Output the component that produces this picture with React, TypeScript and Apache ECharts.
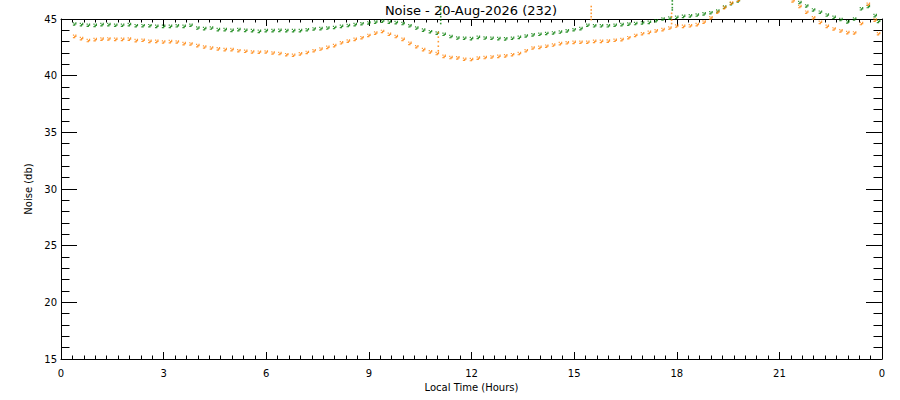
import React, { useEffect, useRef } from "react";
import * as echarts from "echarts";

const hours = [
  0.4, 0.6, 0.8, 1.0, 1.2, 1.4, 1.6, 1.8, 2.0, 2.2, 2.4, 2.6, 2.8, 3.0, 3.2, 3.4, 3.6, 3.8,
  4.0, 4.2, 4.4, 4.6, 4.8, 5.0, 5.2, 5.4, 5.6, 5.8, 6.0, 6.2, 6.4, 6.6, 6.8, 7.0, 7.2, 7.4,
  7.6, 7.8, 8.0, 8.2, 8.4, 8.6, 8.8, 9.0, 9.2, 9.4, 9.6, 9.8, 10.0, 10.2, 10.4, 10.6, 10.8,
  11.0, 11.2, 11.4, 11.6, 11.8, 12.0, 12.2, 12.4, 12.6, 12.8, 13.0, 13.2, 13.4, 13.6, 13.8,
  14.0, 14.2, 14.4, 14.6, 14.8, 15.0, 15.2, 15.4, 15.6, 15.8, 16.0, 16.2, 16.4, 16.6, 16.8,
  17.0, 17.2, 17.4, 17.6, 17.8, 18.0, 18.2, 18.4, 18.6, 18.8, 19.0, 19.2, 19.4, 19.6, 19.8,
  20.0, 20.2, 20.4, 20.6, 20.8, 21.0, 21.2, 21.4, 21.6, 21.8, 22.0, 22.2, 22.4, 22.6, 22.8,
  23.0, 23.2, 23.4, 23.6, 23.8, 23.9,
];

const greenNoise = [
  44.56, 44.5, 44.45, 44.44, 44.5, 44.5, 44.45, 44.45, 44.5, 44.41, 44.41, 44.41, 44.35, 44.35, 44.35, 44.4, 44.35, 44.45,
  44.2, 44.15, 44.2, 44.06, 44.06, 44.0, 44.06, 44.0, 43.97, 43.91, 43.97, 43.97, 44.0, 43.97, 43.97, 43.97, 44.05, 44.12,
  44.15, 44.2, 44.25, 44.35, 44.42, 44.5, 44.58, 44.65, 44.72, 44.8, 44.72, 44.68, 44.6, 44.4, 44.2, 44.02, 43.88,
  43.75, 43.65, 43.45, 43.32, 43.3, 43.27, 43.38, 43.32, 43.3, 43.27, 43.25, 43.3, 43.38, 43.5, 43.6,
  43.65, 43.72, 43.77, 43.85, 43.95, 44.05, 44.15, 44.45, 44.4, 44.4, 44.4, 44.45, 44.5, 44.55, 44.6,
  44.65, 44.7, 44.85, 45.0, 45.08, 45.15, 45.23, 45.28, 45.35, 45.45, 45.55, 45.7, 46.05, 46.35, 46.6,
  null, null, null, null, null, null, null, null, 46.45, 46.15, 45.8, 45.6, 45.35, 45.15, 44.95,
  44.75, 45.0, 45.9, 46.1, 45.3, 44.79,
];

const orangeNoise = [
  43.47, 43.27, 43.1, 43.18, 43.22, 43.24, 43.2, 43.2, 43.22, 43.09, 43.12, 43.03, 43.03, 42.97, 43.0, 42.97, 42.83, 42.8,
  42.65, 42.53, 42.44, 42.36, 42.3, 42.3, 42.2, 42.15, 42.09, 42.07, 42.09, 42.0, 41.95, 41.85, 41.8, 41.92, 42.05, 42.2,
  42.35, 42.5, 42.65, 42.9, 43.05, 43.2, 43.35, 43.55, 43.75, 43.9, 43.65, 43.45, 43.2, 42.85, 42.55, 42.3, 42.1,
  41.95, 41.7, 41.6, 41.57, 41.45, 41.42, 41.55, 41.6, 41.65, 41.7, 41.75, 41.85, 41.95, 42.2, 42.44,
  42.5, 42.6, 42.7, 42.83, 42.9, 42.94, 42.95, 42.95, 43.03, 43.03, 43.05, 43.12, 43.18, 43.35, 43.55,
  43.7, 43.82, 43.95, 44.06, 44.2, 44.38, 44.35, 44.4, 44.5, 44.72, 45.1, 45.6, 46.0, 46.4, 46.65,
  null, null, null, null, null, null, null, 46.6, 46.1, 45.6, 45.1, 44.7, 44.35, 44.12, 43.95,
  43.8, 43.77, 44.6, 46.3, 44.9, 43.7,
];

const greenBurst = [
  [11.1, 46.1], [11.1, 45.8], [11.1, 45.5], [11.1, 45.2], [11.1, 44.9], [11.1, 44.6],
  [17.87, 46.6], [17.87, 46.3], [17.87, 46.0], [17.87, 45.8],
];

const orangeBurst = [
  [11.03, 43.8], [11.03, 43.4], [11.03, 43.0], [11.03, 42.6], [11.03, 42.2],
  [15.5, 46.1], [15.5, 45.8], [15.5, 45.5], [15.5, 45.2], [15.5, 44.95],
  [17.85, 45.5], [17.85, 45.2], [17.85, 44.9], [17.85, 44.6],
];

const xTickLabels = ["0", "3", "6", "9", "12", "15", "18", "21", "0"];

const titleText = "Noise - 20-Aug-2026 (232)";
const xName = "Local Time (Hours)";
const yName = "Noise (db)";

const GREEN = "#007a00";
const ORANGE = "#ff8000";
const FONT = "DejaVu Sans";
// small pixel cluster glyph (3x3 cells, partly filled)
const CLUSTER =
  "path://M0,0h1v1h-1z M2,0h1v1h-1z M1,1h2v1h-2z M0,2h2v1h-2z";

function pairs(xs: number[], ys: (number | null)[]) {
  const out: number[][] = [];
  xs.forEach((x, i) => {
    const y = ys[i];
    if (y !== null && y !== undefined) out.push([x, y]);
  });
  return out;
}

export default function App() {
  const ref = useRef<HTMLDivElement>(null);
  useEffect(() => {
    const chart = echarts.init(ref.current!, null, { renderer: "svg" });
    const axisLine = { show: true, onZero: false, lineStyle: { color: "#000", width: 1 } };
    const xCommon = {
      type: "value",
      min: 0,
      max: 24,
      interval: 3,
      axisLine,
      axisTick: { show: true, inside: true, length: 7, lineStyle: { color: "#000" } },
      minorTick: { show: true, splitNumber: 9, length: 3.5, lineStyle: { color: "#000" } },
      splitLine: { show: false },
      minorSplitLine: { show: false },
    };
    const yCommon = {
      type: "value",
      min: 15,
      max: 45,
      interval: 5,
      axisLine,
      axisTick: { show: true, inside: true, length: 16, lineStyle: { color: "#000" } },
      minorTick: { show: true, splitNumber: 5, length: 8.5, lineStyle: { color: "#000" } },
      splitLine: { show: false },
      minorSplitLine: { show: false },
    };
    const option: any = {
      animation: false,
      backgroundColor: "#fff",
      grid: { left: 61, right: 18, top: 19, bottom: 41, containLabel: false },
      graphic: [
        {
          type: "text",
          x: 471,
          y: 10,
          style: {
            text: titleText,
            fontFamily: FONT,
            fontSize: 13,
            fill: "#000",
            align: "center",
            verticalAlign: "middle",
          },
        },
      ],
      xAxis: [
        {
          ...xCommon,
          position: "bottom",
          axisLabel: {
            show: true,
            color: "#000",
            fontFamily: FONT,
            fontSize: 10,
            margin: 9,
            formatter: (v: number) => xTickLabels[Math.round(v / 3)] ?? String(v),
          },
          name: xName,
          nameLocation: "middle",
          nameGap: 19,
          nameTextStyle: { color: "#000", fontFamily: FONT, fontSize: 10 },
        },
        { ...xCommon, position: "top", axisLabel: { show: false } },
      ],
      yAxis: [
        {
          ...yCommon,
          position: "left",
          axisLabel: { show: true, color: "#000", fontFamily: FONT, fontSize: 10, margin: 4 },
          name: yName,
          nameLocation: "middle",
          nameGap: 23,
          nameRotate: 90,
          nameTextStyle: { color: "#000", fontFamily: FONT, fontSize: 10 },
        },
        { ...yCommon, position: "right", axisLabel: { show: false } },
      ],
      series: [
        {
          type: "scatter",
          name: "green",
          data: pairs(hours, greenNoise),
          symbol: CLUSTER,
          symbolSize: 3.6,
          clip: false,
          itemStyle: { color: GREEN },
          silent: true,
        },
        {
          type: "scatter",
          name: "orange",
          data: pairs(hours, orangeNoise),
          symbol: CLUSTER,
          symbolSize: 3.6,
          clip: false,
          itemStyle: { color: ORANGE },
          silent: true,
        },
        {
          type: "scatter",
          name: "greenBurst",
          data: greenBurst,
          symbol: "rect",
          symbolSize: 1.6,
          clip: false,
          itemStyle: { color: GREEN },
          silent: true,
        },
        {
          type: "scatter",
          name: "orangeBurst",
          data: orangeBurst,
          symbol: "rect",
          symbolSize: 1.6,
          clip: false,
          itemStyle: { color: ORANGE },
          silent: true,
        },
      ],
    };
    chart.setOption(option);
    return () => chart.dispose();
  }, []);
  return (
    <div
      ref={ref}
      style={{ position: "absolute", left: 0, top: 0, width: 900, height: 400, background: "#fff" }}
    />
  );
}
